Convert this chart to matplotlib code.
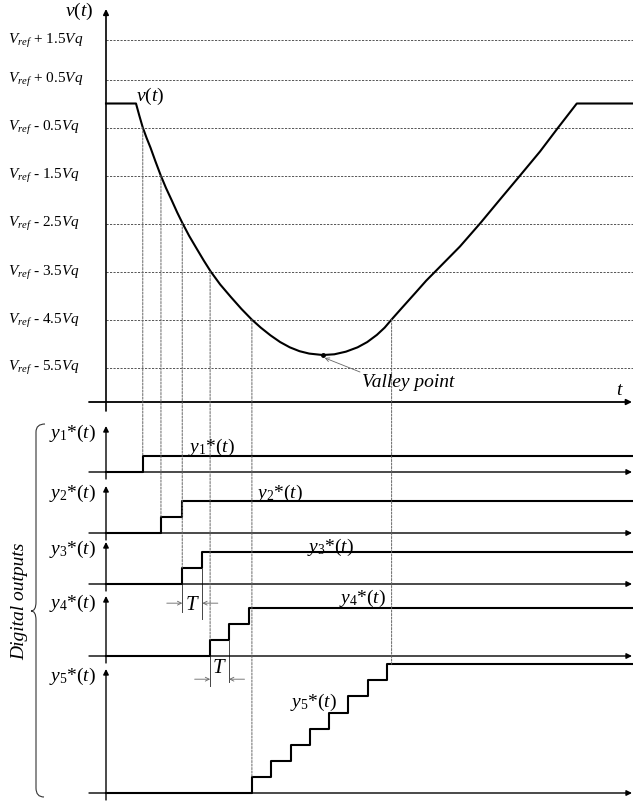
import numpy as np
import matplotlib
matplotlib.use('Agg')
import matplotlib.pyplot as plt
import matplotlib.transforms as mtransforms
from matplotlib.patches import ConnectionPatch, PathPatch
from matplotlib.path import Path

plt.rcParams['font.family'] = 'Liberation Serif'
plt.rcParams['mathtext.fontset'] = 'custom'
plt.rcParams['mathtext.rm'] = 'Liberation Serif'
plt.rcParams['mathtext.it'] = 'Liberation Serif:italic'

W, H = 633, 803

# v(t): time in units of T, voltage in units of Vq relative to Vref
curve_t = [0, 1.55, 1.72, 1.90, 2.10, 2.30, 2.55, 2.83, 3.10, 3.40, 3.68, 3.96,
           4.30, 4.68, 5.05, 5.41, 5.90, 6.45, 7.00, 7.53, 8.00, 8.50, 9.00,
           9.50, 10.00, 10.50, 11.20, 11.80, 12.40, 13.00, 13.50, 14.00, 14.40,
           14.76, 15.20, 15.60, 16.00, 16.55, 17.14, 18.29, 19.33, 20.36, 21.40,
           22.43, 23.37, 24.33, 27.30]
curve_v = [0, 0, -0.25, -0.50, -0.72, -0.92, -1.20, -1.50, -1.76, -2.02, -2.27, -2.50,
           -2.76, -3.02, -3.27, -3.50, -3.77, -4.03, -4.28, -4.50, -4.67, -4.83, -4.97,
           -5.08, -5.16, -5.21, -5.24, -5.225, -5.17, -5.08, -4.97, -4.82, -4.67,
           -4.50, -4.30, -4.12, -3.94, -3.69, -3.45, -2.98, -2.50, -2.00, -1.50,
           -1.00, -0.50, 0, 0]

grid_levels = [1.33, 0.5, -0.5, -1.5, -2.5, -3.5, -4.5, -5.5]
grid_labels = [r'$V_{ref}$ + 1.5$Vq$', r'$V_{ref}$ + 0.5$Vq$',
               r'$V_{ref}$ - 0.5$Vq$', r'$V_{ref}$ - 1.5$Vq$',
               r'$V_{ref}$ - 2.5$Vq$', r'$V_{ref}$ - 3.5$Vq$',
               r'$V_{ref}$ - 4.5$Vq$', r'$V_{ref}$ - 5.5$Vq$']

valley_t, valley_v = 11.20, -5.24

# digital outputs: instants of each unit step (units of T)
y1_steps = [1.90]
y2_steps = [2.84, 3.93]
y3_steps = [3.94, 4.98]
y4_steps = [5.38, 6.36, 7.39]
y5_steps = [7.55, 8.53, 9.56, 10.54, 11.52, 12.51, 13.54, 14.52]
steps = [y1_steps, y2_steps, y3_steps, y4_steps, y5_steps]
out_names = [r'$y_1$*($t$)', r'$y_2$*($t$)', r'$y_3$*($t$)', r'$y_4$*($t$)', r'$y_5$*($t$)']

# dashed guides: curve crossing -> output step
guide_t = [1.90, 2.84, 3.94, 5.38, 7.54, 14.76]
guide_v = [-0.5, -1.5, -2.5, -3.5, -4.5, -4.5]
guide_out = [0, 1, 2, 3, 4, 4]
guide_lvl = [1, 1, 1, 1, 1, 8]

# layout (pixels)
X0 = 106
T_PX = 19.35
VQ_PX = 48
VREF_PX = 104.5
LV_PX = 16.1
base_px = [473, 534, 585, 657, 794]
top_px = [427, 487, 543, 597, 670]

fig = plt.figure(figsize=(W / 100, H / 100), dpi=100)
tmax = (W - X0) / T_PX
pix = mtransforms.Affine2D().scale(1 / W, -1 / H).translate(0, 1) + fig.transFigure


def fbox(x0, y0, x1, y1):
    return [x0 / W, 1 - y1 / H, (x1 - x0) / W, (y1 - y0) / H]


def ftext(px, py, s, **kw):
    return fig.text(px / W, 1 - py / H, s, **kw)


axis_arrow = dict(arrowstyle='-|>', lw=1.0, color='k', mutation_scale=8, shrinkA=0, shrinkB=0)
dim_arrow = dict(arrowstyle='->', lw=0.6, color='#666666', mutation_scale=7, shrinkA=0, shrinkB=0)
dash = (0, (2.2, 1.4))

# ---- top: analog input ----
ax = fig.add_axes(fbox(X0, 10, W, 403))
ax.set_xlim(0, tmax)
ybot, ytop = (VREF_PX - 403) / VQ_PX, (VREF_PX - 10) / VQ_PX
ax.set_ylim(ybot, ytop)
ax.axis('off')

for lvl in grid_levels:
    ax.axhline(lvl, color='#555555', lw=0.7, ls=dash)
lab_tr = mtransforms.blended_transform_factory(fig.transFigure, ax.transData)
for lvl, lab in zip(grid_levels, grid_labels):
    ax.text(8 / W, lvl, lab, transform=lab_tr, ha='left', va='center', fontsize=11)

ax.annotate('', xy=(0, ytop), xytext=(0, (VREF_PX - 412) / VQ_PX),
            arrowprops=dict(axis_arrow, lw=1.2), annotation_clip=False)
ax.annotate('', xy=((632 - X0) / T_PX, ybot), xytext=((89 - X0) / T_PX, ybot),
            arrowprops=dict(axis_arrow, lw=1.3), annotation_clip=False)

ax.plot(curve_t, curve_v, color='k', lw=1.5, clip_on=False, solid_joinstyle='round')
ax.plot(valley_t, valley_v, 'o', ms=2.5, color='k')
ax.annotate('', xy=(valley_t + 0.1, valley_v - 0.06),
            xytext=((360 - X0) / T_PX, (VREF_PX - 373) / VQ_PX),
            arrowprops=dim_arrow)

ftext(93, 11, r'$v$($t$)', ha='right', va='center', fontsize=14)
ftext(136, 96, r'$v$($t$)', ha='left', va='center', fontsize=14)
ftext(620, 391, r'$t$', ha='center', va='center', fontsize=14)
ftext(362, 383, 'Valley point', ha='left', va='center', fontsize=14, style='italic')

# ---- bottom: digital outputs ----
dax = []
for i in range(5):
    a = fig.add_axes(fbox(X0, top_px[i], W, base_px[i]))
    a.set_xlim(0, tmax)
    a.set_ylim(0, (base_px[i] - top_px[i]) / LV_PX)
    a.axis('off')
    a.annotate('', xy=((632 - X0) / T_PX, 0), xytext=((89 - X0) / T_PX, 0),
               arrowprops=axis_arrow, annotation_clip=False)
    a.annotate('', xy=(0, (base_px[i] - top_px[i]) / LV_PX), xytext=(0, -7 / LV_PX),
               arrowprops=axis_arrow, annotation_clip=False)
    lv = list(range(len(steps[i]) + 1))
    a.plot([0] + steps[i] + [tmax], lv + [lv[-1]], drawstyle='steps-post',
           color='k', lw=1.5, clip_on=False)
    ftext(96, top_px[i] + 6, out_names[i], ha='right', va='center', fontsize=14)
    dax.append(a)

# curve labels
lab_pos = [(211, 447), (279, 493), (330, 547), (362, 598), (313, 702)]
for (px, py), s in zip(lab_pos, out_names):
    ftext(px, py, s, ha='center', va='center', fontsize=14)

# guides
for t, v, k, lvl in zip(guide_t, guide_v, guide_out, guide_lvl):
    con = ConnectionPatch(xyA=(t, v), coordsA=ax.transData, xyB=(t, lvl), coordsB=dax[k].transData,
                          color='#666666', lw=0.7, ls=dash)
    fig.add_artist(con)

# T dimension marks
a = dax[2]
a.plot([y3_steps[0]] * 2, [0, -1.75], color='#444444', lw=0.7, clip_on=False)
a.plot([y3_steps[1]] * 2, [1, -2.19], color='#444444', lw=0.7, clip_on=False)
a.annotate('', xy=(y3_steps[0], -1.19), xytext=(y3_steps[0] - 0.8, -1.19), arrowprops=dim_arrow, annotation_clip=False)
a.annotate('', xy=(y3_steps[1], -1.19), xytext=(y3_steps[1] + 0.8, -1.19), arrowprops=dim_arrow, annotation_clip=False)
a.text(np.mean(y3_steps), -1.25, r'$T$', ha='center', va='center', fontsize=15)

a = dax[3]
a.plot([y4_steps[0]] * 2, [0, -1.875], color='#444444', lw=0.7, clip_on=False)
a.plot([y4_steps[1]] * 2, [1, -1.625], color='#444444', lw=0.7, clip_on=False)
a.annotate('', xy=(y4_steps[0], -1.44), xytext=(y4_steps[0] - 0.8, -1.44), arrowprops=dim_arrow, annotation_clip=False)
a.annotate('', xy=(y4_steps[1], -1.44), xytext=(y4_steps[1] + 0.8, -1.44), arrowprops=dim_arrow, annotation_clip=False)
a.text(np.mean(y4_steps[:2]), -0.69, r'$T$', ha='center', va='center', fontsize=15)

# brace
verts = [(45, 425), (36, 425), (36, 433), (36, 603), (36, 612), (31, 612),
         (36, 612), (36, 621), (36, 789), (36, 798), (44, 798)]
codes = [Path.MOVETO, Path.CURVE3, Path.CURVE3, Path.LINETO, Path.CURVE3, Path.CURVE3,
         Path.CURVE3, Path.CURVE3, Path.LINETO, Path.CURVE3, Path.CURVE3]
fig.add_artist(PathPatch(Path(verts, codes), transform=pix, fill=False, lw=0.8, ec='#333333'))
ftext(20, 601, 'Digital outputs', rotation=90, ha='center', va='center', fontsize=14, style='italic')

fig.savefig('out.png', dpi=100)
